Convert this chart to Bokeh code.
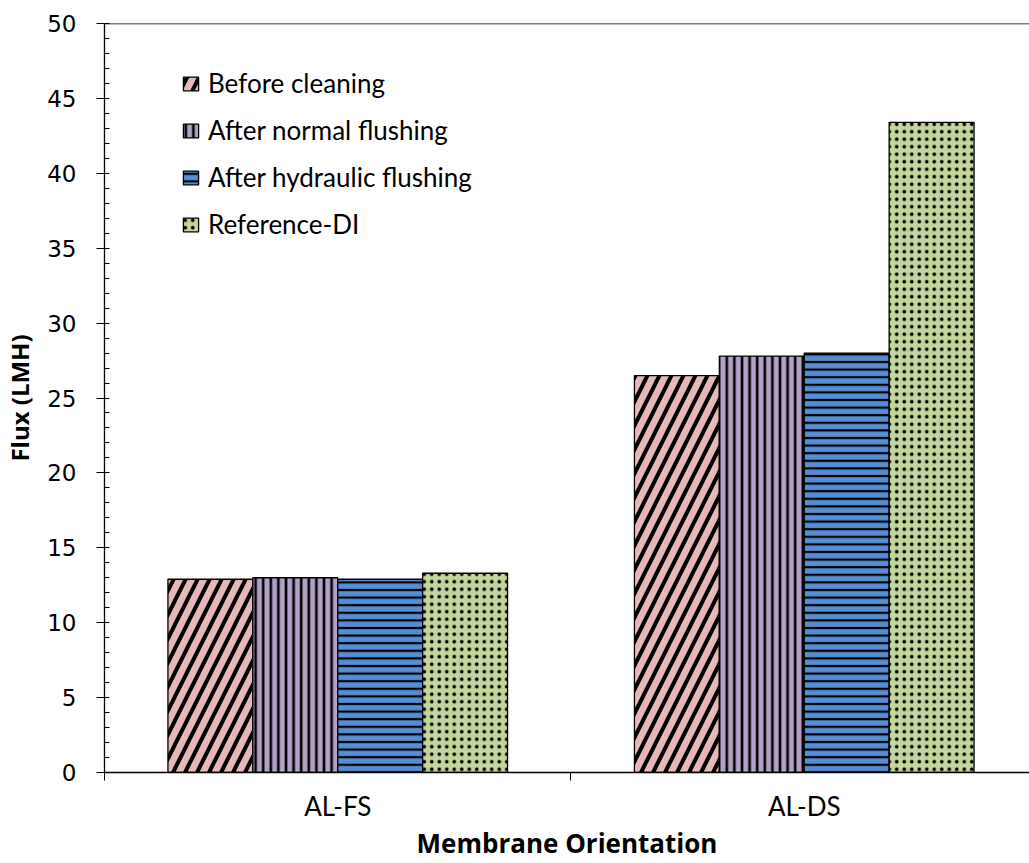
from bokeh.plotting import figure
from bokeh.models import (ColumnDataSource, Range1d, FixedTicker, Span, Legend, LegendItem)
from bokeh.embed import file_html
from bokeh.resources import INLINE

# ---- data ----
categories = ["AL-FS", "AL-DS"]
series_names = ["Before cleaning", "After normal flushing", "After hydraulic flushing", "Reference-DI"]
before_cleaning = [12.9, 26.5]
after_normal_flushing = [13.0, 27.8]
after_hydraulic_flushing = [12.9, 28.0]
reference_di = [13.3, 43.4]
y_ticks = [0, 5, 10, 15, 20, 25, 30, 35, 40, 45, 50]

series_values = [before_cleaning, after_normal_flushing, after_hydraulic_flushing, reference_di]
fills = ["#E6B9B8", "#B3A2C7", "#558ED5", "#C3D69B"]
hatches = ["right_diagonal_line", "vertical_line", "horizontal_line", "dot"]
hatch_scales = [24, 7.6, 7.6, 7.5]
hatch_weights = [4, 2.6, 2.2, 0.2]

bar_w = 85.0 / 467.0

p = figure(width=1029, height=863, output_backend="svg", toolbar_location=None,
           x_range=Range1d(0, (1029 - 103) / 467.0), y_range=Range1d(0, 50),
           min_border_left=103, min_border_right=0, min_border_top=23, min_border_bottom=91)
p.outline_line_color = None
p.xgrid.grid_line_color = None
p.ygrid.grid_line_color = None
p.background_fill_color = "white"

renderers = []
for i, (name, vals) in enumerate(zip(series_names, series_values)):
    xs = [k + 0.5 + (i - 1.5) * bar_w for k in range(len(categories))]
    src = ColumnDataSource(dict(x=xs, top=vals))
    r = p.vbar(x="x", top="top", bottom=0, width=bar_w, source=src,
               fill_color=fills[i], line_color="black", line_width=1.3,
               hatch_pattern=hatches[i], hatch_color="black",
               hatch_scale=hatch_scales[i], hatch_weight=hatch_weights[i])
    renderers.append(r)

legend = Legend(items=[LegendItem(label=n, renderers=[r]) for n, r in zip(series_names, renderers)],
                location=(77, 532), border_line_color=None, background_fill_alpha=0,
                padding=0, margin=0, spacing=15, glyph_width=19, glyph_height=17,
                label_standoff=8, label_text_font="Lato", label_text_font_size="26px",
                label_text_color="black")
p.add_layout(legend)

top_line = Span(location=50, dimension="width", line_color="black", line_width=1.3)
p.add_layout(top_line)

# x axis
xa = p.xaxis[0]
xa.ticker = FixedTicker(ticks=[0.5, 1.5], minor_ticks=[0, 1, 2])
xa.major_label_overrides = {0.5: categories[0], 1.5: categories[1]}
xa.major_tick_out = 0
xa.major_tick_in = 0
xa.minor_tick_out = 8
xa.minor_tick_in = 0
xa.minor_tick_line_color = "black"
xa.axis_line_color = "black"
xa.axis_line_width = 1.3
xa.major_label_text_font = "Lato"
xa.major_label_text_font_size = "26px"
xa.major_label_text_color = "black"
xa.major_label_standoff = 9
xa.axis_label = "Membrane Orientation"
xa.axis_label_text_font = "Open Sans"
xa.axis_label_text_font_style = "bold"
xa.axis_label_text_font_size = "26px"
xa.axis_label_text_color = "black"
xa.axis_label_standoff = 0

# y axis
ya = p.yaxis[0]
ya.ticker = FixedTicker(ticks=y_ticks, minor_ticks=list(range(0, 51)))
ya.major_tick_out = 8
ya.major_tick_in = 0
ya.minor_tick_in = 5
ya.minor_tick_out = 0
ya.major_tick_line_color = "black"
ya.minor_tick_line_color = "black"
ya.axis_line_color = "black"
ya.axis_line_width = 1.3
ya.major_label_text_font = "DejaVu Sans"
ya.major_label_text_font_size = "23px"
ya.major_label_text_color = "black"
ya.major_label_standoff = 20
ya.axis_label = "Flux (LMH)"
ya.axis_label_text_font = "Open Sans"
ya.axis_label_text_font_style = "bold"
ya.axis_label_text_font_size = "24px"
ya.axis_label_text_color = "black"
ya.axis_label_standoff = 8

open("out.html", "w").write(file_html(p, INLINE))
